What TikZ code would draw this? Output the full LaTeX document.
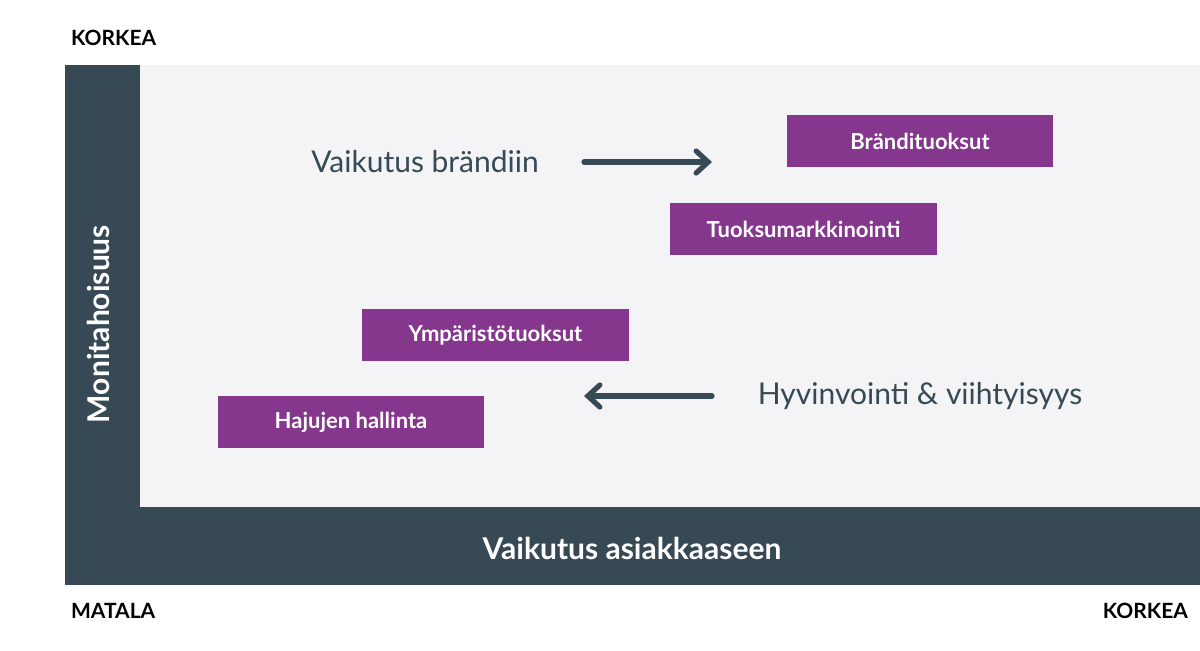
\documentclass[tikz,border=0pt]{standalone}
\usepackage{fontspec}
\setmainfont{Lato}
\usetikzlibrary{arrows.meta}
\definecolor{dark}{HTML}{364954}
\definecolor{light}{HTML}{F4F4F6}
\definecolor{purp}{HTML}{84378C}
\begin{document}
\begin{tikzpicture}[x=0.5pt,y=-0.5pt,
  pbox/.style={fill=purp,text=white,font=\fontsize{11}{13}\selectfont\bfseries,inner sep=0pt},
  lbl/.style={text=dark,font=\fontsize{15}{18}\selectfont},
  corner/.style={font=\fontsize{10.5}{12}\selectfont\bfseries,text=black},
  arr/.style={draw=dark,line width=2.6pt,line cap=round,-{Straight Barb[length=6pt,width=11pt,line cap=round]}}]
\useasboundingbox (0,0) rectangle (1200,650);
\fill[white] (0,0) rectangle (1200,650);
\fill[dark] (65,65) rectangle (1200,585);
\fill[light] (140,65) rectangle (1200,507);
\node[pbox,minimum width=133pt,minimum height=26pt] (b1) at (920,141) {Brändituoksut};
\node[pbox,minimum width=133.5pt,minimum height=26pt] (b2) at (803.5,229) {Tuoksumarkkinointi};
\node[pbox,minimum width=133.5pt,minimum height=26pt] (b3) at (495.5,335) {Ympäristötuoksut};
\node[pbox,minimum width=133pt,minimum height=26pt] (b4) at (351,422) {Hajujen hallinta};
\node[lbl] (t1) at (425,162) {Vaikutus brändiin};
\node[lbl] (t2) at (920,396) {Hyvinvointi \& viihtyisyys};
\coordinate (a1s) at (584,162); \coordinate (a1e) at (712,162);
\coordinate (a2s) at (712,396); \coordinate (a2e) at (584,396);
\draw[arr] (a1s) -- (a1e);
\draw[arr] (a2s) -- (a2e);
\node[text=white,font=\fontsize{15}{18}\selectfont\bfseries,rotate=90] (yl) at (98,324) {Monitahoisuus};
\node[text=white,font=\fontsize{15}{18}\selectfont\bfseries] (xl) at (632,548) {Vaikutus asiakkaaseen};
\node[corner,anchor=west] (k1) at (64,38) {KORKEA};
\node[corner,anchor=west] (m1) at (64,611) {MATALA};
\node[corner,anchor=east] (k2) at (1195,611) {KORKEA};
\end{tikzpicture}
\end{document}
